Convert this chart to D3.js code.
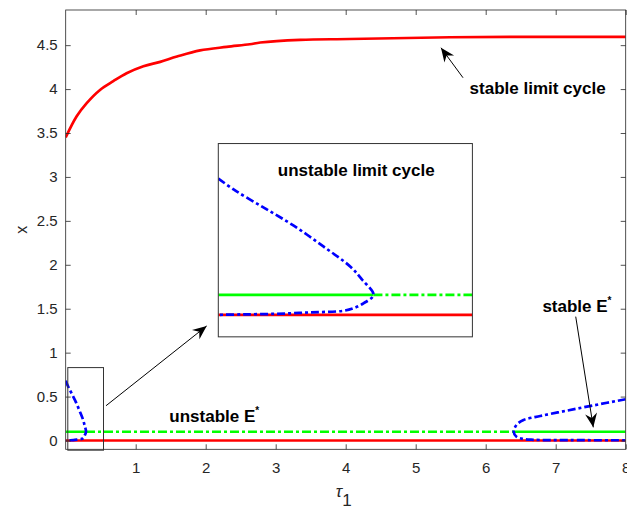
<!DOCTYPE html>
<html>
<head>
<meta charset="utf-8">
<script src="https://cdn.jsdelivr.net/npm/d3@7"></script>
<style>
  body { margin: 0; background: #fff; }
  svg { display: block; font-family: "Liberation Sans", Arial, Helvetica, sans-serif; }
  .tick text { fill: #262626; }
  .note { font-weight: bold; fill: #000; }
</style>
</head>
<body>
<svg class="svg" width="627" height="509"></svg>
<script>
// bifurcation data: x against tau1
var tauTicks = [1, 2, 3, 4, 5, 6, 7, 8];
var xTicks = [0, 0.5, 1, 1.5, 2, 2.5, 3, 3.5, 4, 4.5];

// stable limit cycle amplitude
var stableCycle = [[0, 3.45], [0.157, 3.69], [0.3, 3.84], [0.49, 3.99], [0.68, 4.09], [0.87, 4.18],
  [1.11, 4.26], [1.35, 4.31], [1.59, 4.37], [1.92, 4.44], [2.3, 4.48], [2.63, 4.51],
  [2.78, 4.53], [3.35, 4.56], [4.06, 4.57], [5.49, 4.59], [8, 4.595]];

// unstable limit cycle born at the first Hopf point
var unstableCycleLeft = [[0, 0.68], [0.032, 0.62], [0.085, 0.535], [0.141, 0.445], [0.197, 0.34],
  [0.247, 0.24], [0.269, 0.175], [0.29, 0.1], [0.272, 0.058], [0.253, 0.033], [0.234, 0.02],
  [0.172, 0.012], [0.11, 0.005], [0.047, 0.002], [0, 0]];

// unstable limit cycle past the second Hopf point
var unstableCycleRight = [[8, 0.47], [7.54, 0.40], [7.16, 0.34], [6.78, 0.279], [6.54, 0.233],
  [6.44, 0.177], [6.40, 0.1], [6.44, 0.043], [6.54, 0.017], [6.68, 0.008], [7.2, 0.004], [8, 0.003]];

// equilibria
var eStar = 0.1;
var eZero = 0;
var hopfTau = [0.29, 6.4];

var width = 627, height = 509;
var margin = { left: 65.7, right: 1.3, top: 10, bottom: 59.7 };

var svg = d3.select('.svg');

var x = d3.scaleLinear().domain([0, 8]).range([margin.left, width - margin.right]);
var y = d3.scaleLinear().domain([-0.1, 4.9]).range([height - margin.bottom, margin.top]);

// inset axes zooming on the box near tau1 = 0
var zoomBox = { t0: 0.03, t1: 0.54, x0: -0.11, x1: 0.83 };
var insetBox = { t0: 2.18, t1: 5.81, x0: 1.18, x1: 3.38 };
var ix = d3.scaleLinear().domain([0, 0.475]).range([x(insetBox.t0), x(insetBox.t1)]);
var iy = d3.scaleLinear().domain([-0.11, 0.855]).range([y(insetBox.x0), y(insetBox.x1)]);

var defs = svg.append('defs');
defs.append('clipPath').attr('id', 'clipMain').append('rect')
  .attr('x', x(0)).attr('y', y(4.9))
  .attr('width', x(8) - x(0)).attr('height', y(-0.1) - y(4.9));
defs.append('clipPath').attr('id', 'clipInset').append('rect')
  .attr('x', ix.range()[0]).attr('y', iy.range()[1])
  .attr('width', ix.range()[1] - ix.range()[0]).attr('height', iy.range()[0] - iy.range()[1]);

var dashBlue = '8,3,3,3';
var dashGreen = '9,3,3,3';

function drawCurves(g, sx, sy, t0, t1) {
  var line = d3.line().x(d => sx(d[0])).y(d => sy(d[1])).curve(d3.curveCatmullRom.alpha(0.5));
  // trivial equilibrium
  g.append('path').attr('d', line([[t0, eZero], [t1, eZero]]))
    .attr('fill', 'none').attr('stroke', '#ff0000').attr('stroke-width', 2.7);
  // E*: stable below the first Hopf point and beyond the second
  g.append('path').attr('d', line([[t0, eStar], [hopfTau[0], eStar]]))
    .attr('fill', 'none').attr('stroke', '#00ff00').attr('stroke-width', 2.7);
  g.append('path').attr('d', line([[hopfTau[0], eStar], [hopfTau[1], eStar]]))
    .attr('fill', 'none').attr('stroke', '#00ff00').attr('stroke-width', 2.7)
    .attr('stroke-dasharray', dashGreen);
  g.append('path').attr('d', line([[hopfTau[1], eStar], [t1, eStar]]))
    .attr('fill', 'none').attr('stroke', '#00ff00').attr('stroke-width', 2.7);
  // limit cycles
  g.append('path').attr('d', line(stableCycle))
    .attr('fill', 'none').attr('stroke', '#ff0000').attr('stroke-width', 2.7);
  [unstableCycleLeft, unstableCycleRight].forEach(function (c) {
    g.append('path').attr('d', line(c))
      .attr('fill', 'none').attr('stroke', '#0000ff').attr('stroke-width', 2.7)
      .attr('stroke-dasharray', dashBlue);
  });
}

// main axes
var plot = svg.append('g').attr('clip-path', 'url(#clipMain)');
drawCurves(plot, x, y, 0, 8);

var axisColor = '#262626';
var tickLen = 5;

var xAxis = svg.append('g').attr('transform', 'translate(0,' + y(-0.1) + ')')
  .call(d3.axisBottom(x).tickValues(tauTicks).tickSize(-tickLen).tickPadding(13).tickFormat(d3.format('d')));
var xAxisTop = svg.append('g').attr('transform', 'translate(0,' + y(4.9) + ')')
  .call(d3.axisTop(x).tickValues(tauTicks).tickSize(-tickLen).tickFormat(''));
var yAxis = svg.append('g').attr('transform', 'translate(' + x(0) + ',0)')
  .call(d3.axisLeft(y).tickValues(xTicks).tickSize(-tickLen).tickPadding(8).tickFormat(d => d));
var yAxisRight = svg.append('g').attr('transform', 'translate(' + x(8) + ',0)')
  .call(d3.axisRight(y).tickValues(xTicks).tickSize(-tickLen).tickFormat(''));

[xAxis, xAxisTop, yAxis, yAxisRight].forEach(function (a) {
  a.select('.domain').remove();
  a.selectAll('.tick line').attr('stroke', axisColor).attr('stroke-width', 0.8);
  a.selectAll('.tick text').attr('font-size', 15).attr('font-family', null);
});

svg.append('rect')
  .attr('x', x(0)).attr('y', y(4.9))
  .attr('width', x(8) - x(0)).attr('height', y(-0.1) - y(4.9))
  .attr('fill', 'none').attr('stroke', axisColor).attr('stroke-width', 0.8);

// axis labels
svg.append('text')
  .attr('transform', 'translate(21,' + (y(2.4)) + ') rotate(-90)')
  .attr('text-anchor', 'middle').attr('dy', '0.35em')
  .attr('font-size', 16).attr('fill', axisColor)
  .text('x');

var tauLabel = svg.append('text')
  .attr('x', (x(0) + x(8)) / 2 - 2).attr('y', 497)
  .attr('text-anchor', 'middle').attr('font-size', 17).attr('fill', axisColor);
tauLabel.append('tspan').attr('font-style', 'italic').text('τ');
tauLabel.append('tspan').attr('dy', 9).attr('font-size', 17).text('1');

// box marking the zoomed region
svg.append('rect')
  .attr('x', x(zoomBox.t0)).attr('y', y(zoomBox.x1))
  .attr('width', x(zoomBox.t1) - x(zoomBox.t0)).attr('height', y(zoomBox.x0) - y(zoomBox.x1))
  .attr('fill', 'none').attr('stroke', '#333').attr('stroke-width', 1);

// inset
svg.append('rect')
  .attr('x', ix.range()[0]).attr('y', iy.range()[1])
  .attr('width', ix.range()[1] - ix.range()[0]).attr('height', iy.range()[0] - iy.range()[1])
  .attr('fill', '#fff');
var inset = svg.append('g').attr('clip-path', 'url(#clipInset)');
drawCurves(inset, ix, iy, 0, 0.475);
svg.append('rect')
  .attr('x', ix.range()[0]).attr('y', iy.range()[1])
  .attr('width', ix.range()[1] - ix.range()[0]).attr('height', iy.range()[0] - iy.range()[1])
  .attr('fill', 'none').attr('stroke', '#333').attr('stroke-width', 1);

// annotation arrows, given in data units [from, to]
var arrows = [
  [[5.676, 4.129], [5.361, 4.47]],
  [[7.286, 1.41], [7.537, 0.15]],
  [[0.576, 0.396], [2.014, 1.304]]
];

arrows.forEach(function (a) {
  var x0 = x(a[0][0]), y0 = y(a[0][1]), x1 = x(a[1][0]), y1 = y(a[1][1]);
  var ang = Math.atan2(y1 - y0, x1 - x0) * 180 / Math.PI;
  svg.append('line')
    .attr('x1', x0).attr('y1', y0).attr('x2', x1).attr('y2', y1)
    .attr('stroke', '#000').attr('stroke-width', 1);
  svg.append('path')
    .attr('d', 'M0,0L-14,-6L-9.5,0L-14,6Z')
    .attr('transform', 'translate(' + x1 + ',' + y1 + ') rotate(' + ang + ')')
    .attr('fill', '#000');
});

// text notes, anchored in data units
var notes = [
  { t: 5.77, v: 3.94, text: 'stable limit cycle', sup: false },
  { t: 3.03, v: 3.01, text: 'unstable limit cycle', sup: false },
  { t: 6.81, v: 1.46, text: 'stable E', sup: true },
  { t: 1.48, v: 0.21, text: 'unstable E', sup: true }
];

notes.forEach(function (n) {
  var t = svg.append('text').attr('class', 'note')
    .attr('x', x(n.t)).attr('y', y(n.v)).attr('font-size', 17);
  t.append('tspan').text(n.text);
  if (n.sup) t.append('tspan').attr('dy', -8).attr('font-size', 10).text('*');
});
</script>
</body>
</html>
